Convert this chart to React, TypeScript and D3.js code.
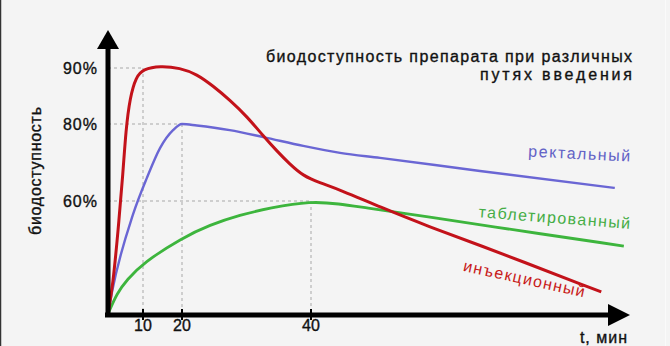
import React from "react";
import * as d3 from "d3";

// ---- data (minutes / % bioavailability) ----
const injTime = [0, 1.4, 2.9, 4.3, 5.1, 6.3, 8, 10, 14.4, 19.5, 22.3, 24.8, 27.4, 30.1, 32.6, 34.7, 36.7, 38.8, 41.4, 44.5, 50.7, 58.4, 64.1, 85];
const injValue = [0, 15.4, 44.6, 67.5, 78.4, 84.8, 88.4, 89.8, 90.4, 90, 88.9, 86.8, 84.3, 81.3, 76.9, 73, 69.6, 66.5, 64.7, 62.9, 56.8, 46.2, 39.3, 11.7];

const rectTime = [0, 1.1, 7.1, 11, 14.4, 17.7, 20, 22.3, 27.4, 32.6, 38.8, 44.5, 50.7, 66.2, 87.1];
const rectValue = [0, 11.2, 52.6, 66, 73.8, 78.4, 80, 79.6, 78.4, 76.6, 74.3, 72.5, 71.2, 67.8, 63.4];

const tabTime = [0, 2.6, 5.4, 10, 20, 24.3, 29, 33.6, 40, 44.5, 47.6, 58.4, 66.2, 88.5];
const tabValue = [0, 11.2, 18.1, 27.1, 40.4, 47.3, 52.6, 56.3, 60, 58.4, 56.8, 51.5, 47.3, 36.1];

const xTicks = [10, 20, 40];
const yTicks = [60, 80, 90];
const yTickLabels = ["60%", "80%", "90%"];
// peak markers (time, value) joined by dashed guides
const peakTime = [10, 20, 40];
const peakValue = [90, 80, 60];

const title1 = "биодоступность препарата при различных";
const title2 = "путях введения";
const yTitle = "биодоступность";
const xTitle = "t, мин";
const seriesNames = ["инъекционный", "ректальный", "таблетированный"];

export default function App() {
  const W = 670, H = 346;
  const x0 = 108, y0 = 314;
  // the original axes are not uniform: piecewise scales through the labelled ticks
  const x = d3.scaleLinear().domain([0, 10, 20, 40]).range([x0, 143, 182, 311]);
  const y = d3.scaleLinear().domain([0, 60, 80, 90]).range([y0, 201, 124, 68]);

  const mk = (t: number[], v: number[], curve: d3.CurveFactory) =>
    d3.line<number>().x((_, i) => x(t[i])).y((_, i) => y(v[i])).curve(curve)(t) || "";

  const font = "'Liberation Sans', Arial, sans-serif";
  const red = "#c3121a", blue = "#6a66d4", green = "#3db53d";
  const ink = "#111";
  const heavy = { stroke: ink, strokeWidth: 0.35 } as const;

  return (
    <div style={{ position: "fixed", left: 0, top: 0, width: W, height: H }}>
      <svg width={W} height={H} style={{ display: "block", fontFamily: font }}>
        <rect x={0} y={0} width={W} height={H} fill="#f4f4f4" />
        <line x1={0.5} y1={0} x2={0.5} y2={H} stroke="#333" strokeWidth={1.5} />
        <line x1={665.5} y1={0} x2={665.5} y2={H} stroke="#fafafa" strokeWidth={1} />

        {/* dashed guides */}
        {peakTime.map((t, i) => (
          <g key={"g" + i} stroke="#a8a8a8" strokeWidth={1} strokeDasharray="3,3">
            <line x1={x0} x2={x(t)} y1={y(peakValue[i])} y2={y(peakValue[i])} />
            <line x1={x(t)} x2={x(t)} y1={y(peakValue[i])} y2={y0} />
          </g>
        ))}

        {/* curves */}
        <path d={mk(tabTime, tabValue, d3.curveBasis)} fill="none" stroke={green} strokeWidth={2.8} strokeLinejoin="round" />
        <path d={mk(rectTime, rectValue, d3.curveMonotoneX)} fill="none" stroke={blue} strokeWidth={2.4} strokeLinejoin="round" />
        <path d={mk(injTime, injValue, d3.curveBasis)} fill="none" stroke={red} strokeWidth={3} strokeLinejoin="round" />

        {/* axes */}
        <line x1={x0} y1={48} x2={x0} y2={y0 + 3} stroke="#000" strokeWidth={5} />
        <polygon points={`${x0},30 ${x0 - 11},49 ${x0 + 11},49`} fill="#000" />
        <line x1={x0 - 3} y1={y0 + 1} x2={609} y2={y0 + 1} stroke="#000" strokeWidth={5} />
        <polygon points={`630,${y0 + 1} 608,${y0 - 10} 608,${y0 + 12}`} fill="#000" />

        {xTicks.map((t) => (
          <g key={"xt" + t}>
            <line x1={x(t)} x2={x(t)} y1={y0 - 5} y2={y0 + 6} stroke="#000" strokeWidth={2} />
            <text x={x(t)} y={331} fontSize={16} textAnchor="middle" fill={ink} {...heavy}>{t}</text>
          </g>
        ))}
        {yTicks.map((v, i) => (
          <text key={"yt" + v} x={98} y={y(v)} dy="0.35em" fontSize={16} textAnchor="end" fill={ink} letterSpacing={1} {...heavy}>
            {yTickLabels[i]}
          </text>
        ))}

        <text x={628} y={343} fontSize={16} textAnchor="end" fill={ink} letterSpacing={1} {...heavy}>{xTitle}</text>
        <text transform="translate(41,171) rotate(-90)" fontSize={16} textAnchor="middle" fill={ink} textLength={128} lengthAdjust="spacing" {...heavy}>
          {yTitle}
        </text>

        <text x={632} y={62} fontSize={16} textAnchor="end" fill={ink} textLength={366} lengthAdjust="spacing" {...heavy}>{title1}</text>
        <text x={632} y={80} fontSize={16} textAnchor="end" fill={ink} textLength={152} lengthAdjust="spacing" {...heavy}>{title2}</text>

        {/* series labels */}
        <text transform="translate(579,159) rotate(2.8)" fontSize={16} textAnchor="middle" fill="#6262c6" textLength={102} lengthAdjust="spacing">
          {seriesNames[1]}
        </text>
        <text transform="translate(554,223) rotate(4.4)" fontSize={16} textAnchor="middle" fill="#45ad45" textLength={152} lengthAdjust="spacing">
          {seriesNames[2]}
        </text>
        <text transform="translate(523,284) rotate(12.3)" fontSize={16} textAnchor="middle" fill="#c81a1a" textLength={124} lengthAdjust="spacing">
          {seriesNames[0]}
        </text>
      </svg>
    </div>
  );
}
